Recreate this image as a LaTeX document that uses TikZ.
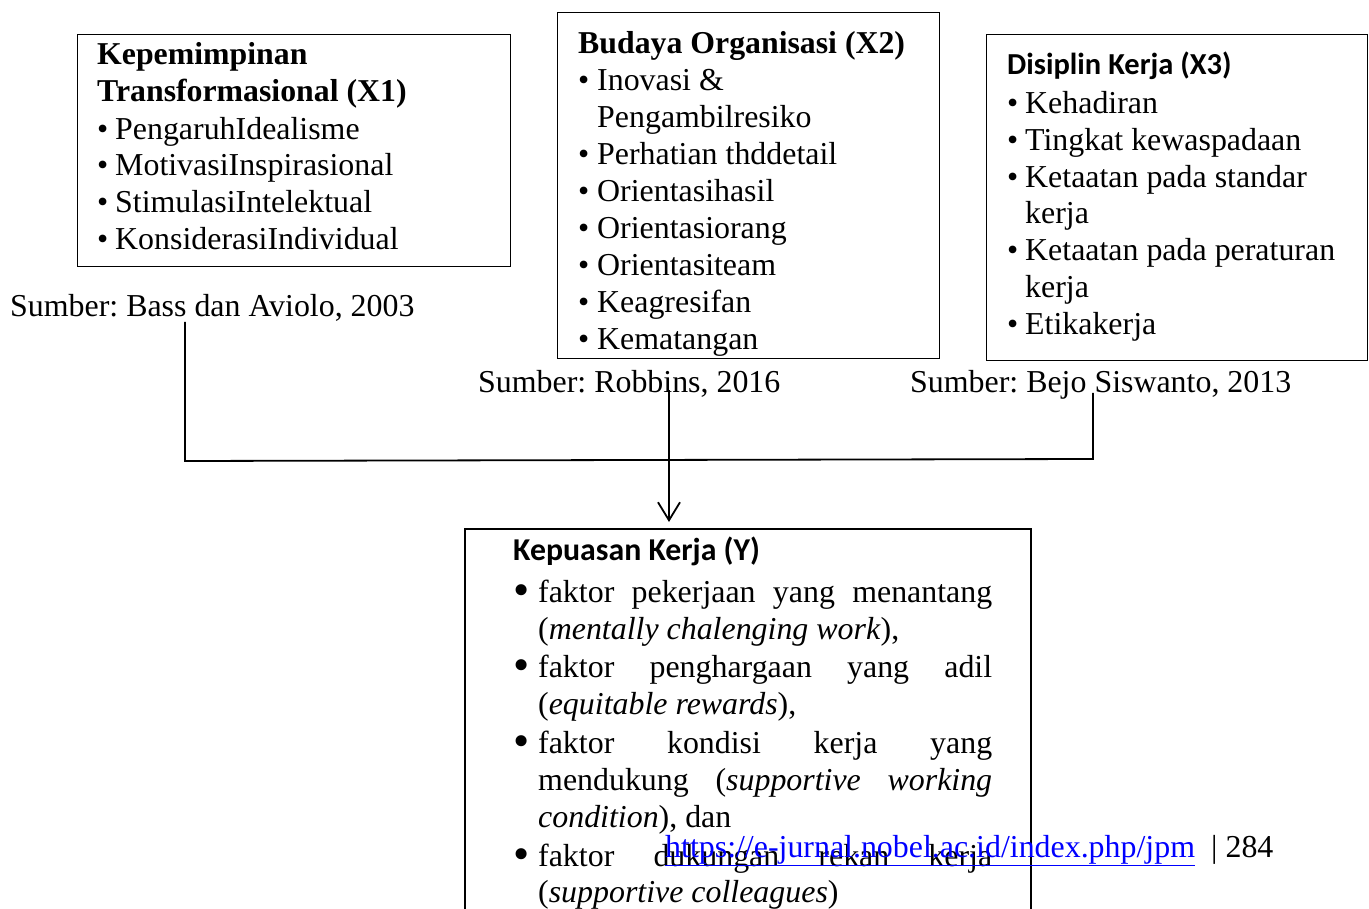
\documentclass[tikz,border=0pt]{standalone}
\usepackage{fontspec}
\setmainfont{Liberation Serif}
\newfontfamily\carlito{Carlito}
\usetikzlibrary{arrows.meta}
\frenchspacing
\begin{document}
\begin{tikzpicture}[x=1pt,y=-1pt,
  txt/.style={anchor=base west,inner sep=0pt,font=\fontsize{31.9}{37}\selectfont},
  hdc/.style={anchor=base west,inner sep=0pt,font=\fontsize{30.5}{37}\selectfont\carlito\bfseries},
  box/.style={draw,line width=1.3pt,anchor=north west,inner sep=0pt},
  conn/.style={line width=1.8pt},
  arr/.style={conn,-{Straight Barb[length=18pt,width=22pt,line width=1.8pt]}}]
\useasboundingbox[fill=white] (0,0) rectangle (1369,909);
\newcommand{\bl}{\makebox[18pt][l]{\textbullet}}
\newcommand{\yb}{\makebox[17pt][l]{\hspace{-8pt}\raisebox{-0.1em}{\scalebox{1.45}{\textbullet}}}}
% X1
\node[box,minimum width=433pt,minimum height=232pt] (bx1) at (77,34) {};
\node[txt,font=\fontsize{31.8}{37}\selectfont\bfseries] (h1a) at (97,65) {Kepemimpinan};
\node[txt,font=\fontsize{31.8}{37}\selectfont\bfseries] (h1b) at (97,102) {Transformasional (X1)};
\node[txt] (a1) at (97,139.5) {\bl PengaruhIdealisme};
\node[txt] (a2) at (97,176) {\bl MotivasiInspirasional};
\node[txt] (a3) at (97,213) {\bl StimulasiIntelektual};
\node[txt] (a4) at (97,249.5) {\bl KonsiderasiIndividual};
\node[txt] (src1) at (10,317) {Sumber: Bass dan Aviolo, 2003};
% X2
\node[box,minimum width=382pt,minimum height=346pt] (bx2) at (557,12) {};
\node[txt,font=\fontsize{31.8}{37}\selectfont\bfseries] (h2) at (578,54) {Budaya Organisasi (X2)};
\node[txt] (b1) at (578,91) {\makebox[19pt][l]{\textbullet}Inovasi \&};
\node[txt] (b1b) at (597,128) {Pengambilresiko};
\node[txt] (b2) at (578,165) {\makebox[19pt][l]{\textbullet}Perhatian thddetail};
\node[txt] (b3) at (578,202) {\makebox[19pt][l]{\textbullet}Orientasihasil};
\node[txt] (b4) at (578,239) {\makebox[19pt][l]{\textbullet}Orientasiorang};
\node[txt] (b5) at (578,276) {\makebox[19pt][l]{\textbullet}Orientasiteam};
\node[txt] (b6) at (578,313) {\makebox[19pt][l]{\textbullet}Keagresifan};
\node[txt] (b7) at (578,350) {\makebox[19pt][l]{\textbullet}Kematangan};
\node[txt] (src2) at (478,392) {Sumber: Robbins, 2016};
% X3
\node[box,minimum width=381pt,minimum height=326pt] (bx3) at (986,34) {};
\node[hdc] (h3) at (1007,75) {Disiplin Kerja (X3)};
\node[txt] (c1) at (1007,113.5) {\bl Kehadiran};
\node[txt] (c2) at (1007,150.5) {\bl Tingkat kewaspadaan};
\node[txt] (c3) at (1007,187.5) {\bl Ketaatan pada standar};
\node[txt] (c3b) at (1025,223.5) {kerja};
\node[txt] (c4) at (1007,260.5) {\bl Ketaatan pada peraturan};
\node[txt] (c4b) at (1025,297.5) {kerja};
\node[txt] (c5) at (1007,334.5) {\bl Etikakerja};
\node[txt] (src3) at (910,393) {Sumber: Bejo Siswanto, 2013};
% Y
\draw[line width=1.3pt] (465,930) -- (465,529) -- (1031,529) -- (1031,930);
\coordinate (ytop) at (669,522);
\node[hdc,font=\fontsize{31.8}{37}\selectfont\carlito\bfseries] (hy) at (513,560) {Kepuasan Kerja (Y)};
\node[txt] (y1) at (521,602) {\yb\makebox[454pt][s]{faktor\hfill pekerjaan\hfill yang\hfill menantang}};
\node[txt] (y1b) at (538,639) {(\textit{mentally chalenging work}),};
\node[txt] (y2) at (521,677) {\yb\makebox[454pt][s]{faktor\hfill penghargaan\hfill yang\hfill adil}};
\node[txt] (y2b) at (538,714) {(\textit{equitable rewards}),};
\node[txt] (y3) at (521,753) {\yb\makebox[454pt][s]{faktor\hfill kondisi\hfill kerja\hfill yang}};
\node[txt] (y3b) at (538,790) {\makebox[454pt][s]{mendukung\hfill (\textit{supportive}\hfill \textit{working}}};
\node[txt] (y3c) at (538,827) {\textit{condition}), dan};
\node[txt] (y4) at (521,866) {\yb\makebox[454pt][s]{faktor\hfill dukungan\hfill rekan\hfill kerja}};
\node[txt] (y4b) at (538,902) {(\textit{supportive colleagues})};
% footer
\node[txt,text=blue] (url) at (665,857) {\underline{https://e-jurnal.nobel.ac.id/index.php/jpm}};
\node[txt] (pg) at (1211,857) {| 284};
% connectors
\coordinate (s1) at (185,322);
\coordinate (j1) at (185,461);
\coordinate (s3) at (1093,393);
\coordinate (j3) at (1093,459);
\coordinate (s2) at (669,390);
\draw[conn] (s1) -- (j1) -- (j3) -- (s3);
\draw[arr] (s2) -- (ytop);
\end{tikzpicture}
\end{document}
